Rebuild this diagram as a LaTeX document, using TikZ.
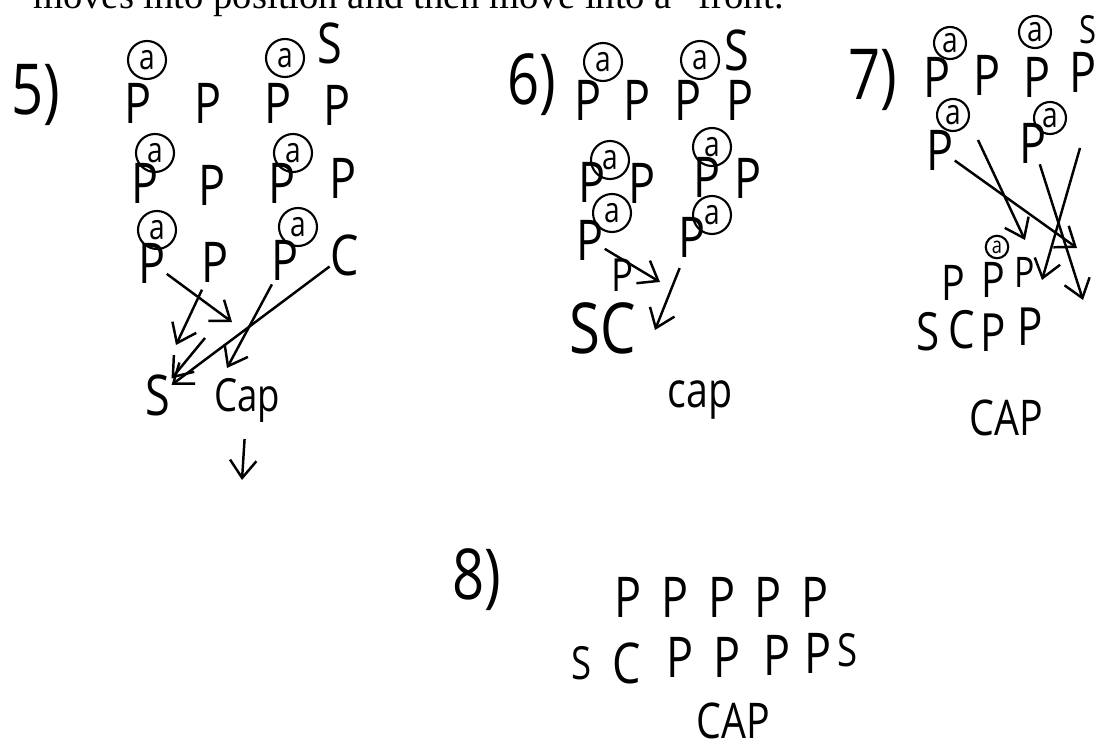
\documentclass[tikz,border=0pt]{standalone}
\usepackage{fontspec}
\newfontfamily\hand[FakeStretch=0.8]{Open Sans}
\newfontfamily\bookfont{Liberation Serif}
\usetikzlibrary{arrows.meta}

\begin{document}
\begin{tikzpicture}[x=0.02cm,y=-0.02cm,
  every path/.style={>={Straight Barb[length=10pt,width=15pt]},line width=1.4pt},
  every node/.style={inner sep=0pt,font=\hand\fontsize{32}{32}\selectfont},
  ring/.style={draw,circle,minimum size=0.76cm,line width=1.2pt,font=\hand\fontsize{20}{20}\selectfont},
  big/.style={font=\hand\fontsize{40}{40}\selectfont}]
\useasboundingbox (0,0) rectangle (1106,750);
\node[anchor=base west,font=\bookfont\fontsize{22}{22}\selectfont] (top) at (32,9) {moves into position and then move into a “front.};
% step 5
\node[big]       (n5)   at (36,95)   {5)};
\node[ring]      (r51)  at (147,60)  {a};
\node[ring]      (r52)  at (285,58)  {a};
\node            (s51)  at (330,43)  {S};
\node            (p51)  at (138,103) {P};
\node            (p52)  at (208,103) {P};
\node            (p53)  at (278,103) {P};
\node            (p54)  at (337,105) {P};
\node[ring]      (r53)  at (155,153) {a};
\node[ring]      (r54)  at (293,153) {a};
\node            (p55)  at (145,183) {P};
\node            (p56)  at (212,185) {P};
\node            (p57)  at (282,183) {P};
\node            (p58)  at (343,178) {P};
\node[ring]      (r55)  at (157,230) {a};
\node[ring]      (r56)  at (298,227) {a};
\node            (p59)  at (152,263) {P};
\node            (p510) at (215,262) {P};
\node            (p511) at (285,260) {P};
\node            (c51)  at (345,255) {C};
\node            (s52)  at (158,395) {S};
\node[font=\hand\fontsize{26}{26}\selectfont] (cap5) at (247,400) {Cap};
\coordinate      (e51)  at (232,322);
\coordinate      (b52)  at (205,338);
\coordinate      (e52)  at (176,345);
\coordinate      (e53)  at (227,368);
\coordinate      (e54)  at (242,480);
\draw[->]             (p59) -- (e51);
\draw[->,shorten <=4pt] (p510) -- (e52);
\draw[->]             (b52) -- (s52);
\draw[->]             (c51) -- (s52);
\draw[->,shorten <=2pt] (p511) -- (e53);
\draw[->,shorten <=9pt] (cap5) -- (e54);
% step 6
\node[big]       (n6)   at (532,85)  {6)};
\node[ring]      (r61)  at (603,62)  {a};
\node[ring]      (r62)  at (700,60)  {a};
\node            (s61)  at (737,50)  {S};
\node            (p61)  at (588,100) {P};
\node            (p62)  at (637,100) {P};
\node            (p63)  at (688,100) {P};
\node            (p64)  at (740,100) {P};
\node[ring]      (r63)  at (610,160) {a};
\node[ring]      (r64)  at (712,147) {a};
\node            (p65)  at (592,182) {P};
\node            (p66)  at (642,183) {P};
\node            (p67)  at (707,177) {P};
\node            (p68)  at (748,178) {P};
\node[ring]      (r65)  at (612,213) {a};
\node[ring]      (r66)  at (712,215) {a};
\node            (p69)  at (590,240) {P};
\node            (p610) at (692,237) {P};
\node[font=\hand\fontsize{26}{26}\selectfont] (p611) at (622,275) {P};
\node[big]       (sc6)  at (603,328) {SC};
\node[font=\hand\fontsize{28}{28}\selectfont] (cap6) at (700,400) {cap};
\coordinate      (e61)  at (660,282);
\coordinate      (e62)  at (655,330);
\draw[->]             (p69) -- (e61);
\draw[->,shorten <=6pt] (p610) -- (e62);
% step 7
\node[big]       (n7)   at (873,80)  {7)};
\node[ring,minimum size=0.64cm] (r71) at (950,43)  {a};
\node[ring,minimum size=0.64cm] (r72) at (1035,32) {a};
\node[font=\hand\fontsize{22}{22}\selectfont] (s71) at (1088,30) {S};
\node            (p71)  at (937,77)  {P};
\node            (p72)  at (987,75)  {P};
\node            (p73)  at (1037,77) {P};
\node            (p74)  at (1083,72) {P};
\node[ring,minimum size=0.64cm] (r73) at (953,115) {a};
\node[ring,minimum size=0.64cm] (r74) at (1050,118) {a};
\node            (p75)  at (940,150) {P};
\node            (p76)  at (1033,143) {P};
\node[ring,minimum size=0.45cm,font=\hand\fontsize{13}{13}\selectfont] (r75) at (997,247) {a};
\node[font=\hand\fontsize{28}{28}\selectfont] (p77) at (953,283) {P};
\node[font=\hand\fontsize{28}{28}\selectfont] (p78) at (993,280) {P};
\node[font=\hand\fontsize{24}{24}\selectfont] (p79) at (1025,272) {P};
\node[font=\hand\fontsize{30}{30}\selectfont] (s72) at (928,332) {S};
\node[font=\hand\fontsize{30}{30}\selectfont] (c72) at (962,330) {C};
\node[font=\hand\fontsize{30}{30}\selectfont] (p710) at (993,333) {P};
\node[font=\hand\fontsize{30}{30}\selectfont] (p711) at (1030,327) {P};
\node[font=\hand\fontsize{28}{28}\selectfont] (cap7) at (1006,418) {CAP};
\coordinate      (b72)  at (978,140);
\coordinate      (b74)  at (1080,148);
\coordinate      (e71)  at (1077,248);
\coordinate      (e72)  at (1025,240);
\coordinate      (e73)  at (1083,300);
\coordinate      (e74)  at (1042,280);
\draw[->]             (p75) -- (e71);
\draw[->]             (b72) -- (e72);
\draw[->]             (p76) -- (e73);
\draw[->]             (b74) -- (e74);
% step 8
\node[big]       (n8)   at (477,580) {8)};
\node            (p81)  at (628,597) {P};
\node            (p82)  at (675,597) {P};
\node            (p83)  at (722,597) {P};
\node            (p84)  at (768,597) {P};
\node            (p85)  at (815,597) {P};
\node[font=\hand\fontsize{26}{26}\selectfont] (s81) at (582,663) {S};
\node            (c81)  at (627,663) {C};
\node            (p86)  at (680,657) {P};
\node            (p87)  at (727,657) {P};
\node            (p88)  at (777,655) {P};
\node            (p89)  at (818,653) {P};
\node[font=\hand\fontsize{26}{26}\selectfont] (s82) at (848,650) {S};
\node[font=\hand\fontsize{28}{28}\selectfont] (cap8) at (733,721) {CAP};
\end{tikzpicture}
\end{document}
